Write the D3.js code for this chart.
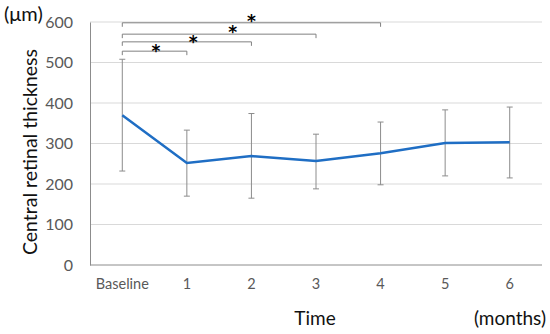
<!DOCTYPE html>
<html>
<head>
<meta charset="utf-8">
<script src="https://cdn.jsdelivr.net/npm/d3@7"></script>
<style>
body { margin: 0; background: #fff; }
text { font-family: Lato, "Open Sans", sans-serif; }
</style>
</head>
<body>
<div id="chart"></div>
<script>
// data
var categories = ["Baseline", "1", "2", "3", "4", "5", "6"];
var means = [370, 252, 269, 257, 276, 301, 303];
var uppers = [508, 333, 374, 323, 353, 383, 390];
var lowers = [232, 170, 165, 188, 198, 220, 215];
var yTicks = [0, 100, 200, 300, 400, 500, 600];

// significance brackets: from baseline to category, level in um
var bracketTo = ["4", "3", "2", "1"];
var bracketLevel = [598, 570, 551, 528];
// where the star sits along each bracket (0 = baseline end, 1 = other end)
var starAlong = [0.5, 0.57, 0.55, 0.52];

var W = 550, H = 334;
var pl = 90, pr = 542, pt = 22, pb = 265;

var svg = d3.select("#chart").append("svg")
    .attr("width", W)
    .attr("height", H);

var x = d3.scaleBand().domain(categories).range([pl, pr]);
var y = d3.scaleLinear().domain([0, 600]).range([pb, pt]);

// grid lines
svg.selectAll(".grid").data(yTicks.slice(1))
  .enter().append("line")
  .attr("class", "grid")
  .attr("x1", pl).attr("x2", pr)
  .attr("y1", function(d){ return y(d) }).attr("y2", function(d){ return y(d) })
  .attr("stroke", "#d9d9d9").attr("stroke-width", 1);

// y axis
var yAxis = d3.axisLeft(y).tickValues(yTicks).tickSize(0).tickPadding(17);
var gy = svg.append("g").attr("transform", "translate(" + pl + ",0)").call(yAxis);
gy.select(".domain").attr("stroke", "#8c8c8c");
gy.selectAll("text").attr("fill", "#595959").style("font-size", "16px");

// x axis
var xAxis = d3.axisBottom(x).tickSize(0).tickPadding(14);
var gx = svg.append("g").attr("transform", "translate(0," + pb + ")").call(xAxis);
gx.select(".domain").attr("stroke", "#8c8c8c").attr("d", "M" + pl + ",0H" + pr);
gx.selectAll("text").attr("fill", "#595959").style("font-size", "14.5px");

// error bars
var bw = 3;
var eb = svg.append("g").attr("stroke", "#8c8c8c").attr("stroke-width", 1);
categories.forEach(function(c, i){
  var cx = x(c) + x.bandwidth() / 2;
  eb.append("line").attr("x1", cx).attr("x2", cx).attr("y1", y(uppers[i])).attr("y2", y(lowers[i]));
  eb.append("line").attr("x1", cx - bw).attr("x2", cx + bw).attr("y1", y(uppers[i])).attr("y2", y(uppers[i]));
  eb.append("line").attr("x1", cx - bw).attr("x2", cx + bw).attr("y1", y(lowers[i])).attr("y2", y(lowers[i]));
});

// mean line
var line = d3.line()
  .x(function(d, i){ return x(categories[i]) + x.bandwidth() / 2 })
  .y(function(d){ return y(d) });
svg.append("path").datum(means)
  .attr("d", line)
  .attr("fill", "none")
  .attr("stroke", "#1f6ec4")
  .attr("stroke-width", 2.5);

// brackets
var x0 = x(categories[0]) + x.bandwidth() / 2;
bracketTo.forEach(function(c, i){
  var x1 = x(c) + x.bandwidth() / 2;
  var yy = y(bracketLevel[i]);
  svg.append("path")
    .attr("d", "M" + x0 + "," + (yy + 4) + "V" + yy + "H" + x1 + "V" + (yy + 4))
    .attr("fill", "none").attr("stroke", "#808080").attr("stroke-width", 1);
  svg.append("text")
    .attr("x", x0 + (x1 - x0) * starAlong[i])
    .attr("y", yy + (i < 2 ? 4 : 6))
    .attr("text-anchor", "middle")
    .style("font-family", "'DejaVu Sans', sans-serif")
    .style("font-size", "17px")
    .style("font-weight", "bold")
    .attr("fill", "#000")
    .text("*");
});

// titles
svg.append("text").attr("x", 4).attr("y", 21).style("font-size", "20px").attr("fill", "#111").text("(μm)");
svg.append("text")
  .attr("transform", "translate(37,152) rotate(-90)")
  .attr("text-anchor", "middle")
  .style("font-size", "19.5px").attr("fill", "#111")
  .text("Central retinal thickness");
svg.append("text").attr("x", 315).attr("y", 325).attr("text-anchor", "middle")
  .style("font-size", "19px").attr("fill", "#111").text("Time");
svg.append("text").attr("x", 546).attr("y", 325).attr("text-anchor", "end")
  .style("font-size", "19px").attr("fill", "#111").text("(months)");
</script>
</body>
</html>
